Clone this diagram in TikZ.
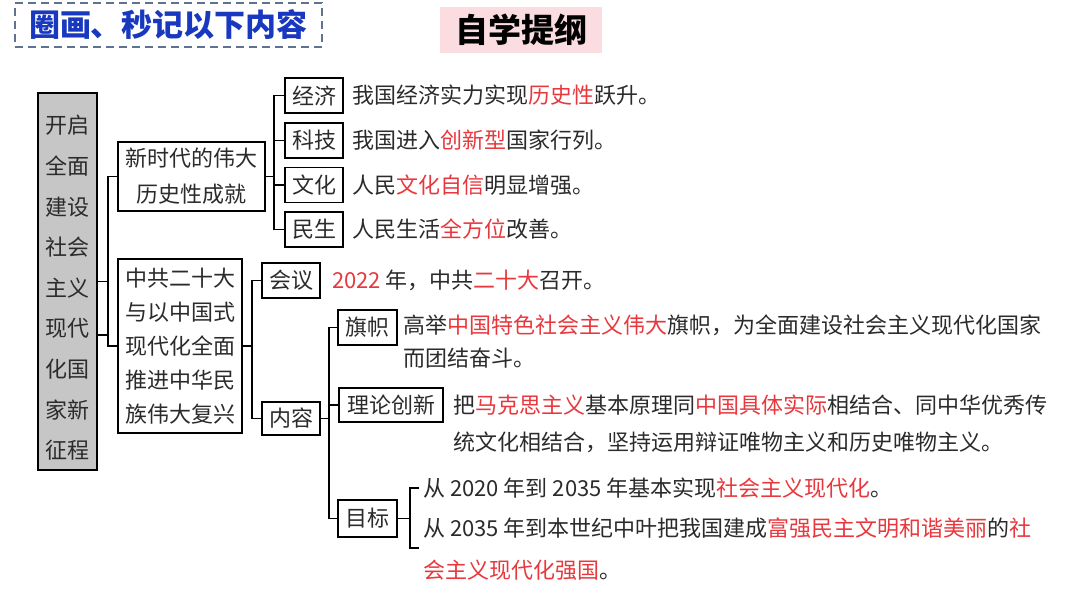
\documentclass[tikz,border=0pt]{standalone}
\usepackage{fontspec}
\setmainfont{Noto Sans CJK SC}
\definecolor{txt}{HTML}{2B2B2B}
\definecolor{hl}{HTML}{E8383D}
\definecolor{hdr}{HTML}{1838C0}
\definecolor{dashc}{HTML}{5E7392}
\definecolor{pinkbg}{HTML}{FBDDE1}
\definecolor{rootbg}{HTML}{C6C6C6}
\newcommand{\hlt}[1]{\textcolor{hl}{#1}}
\begin{document}
\begin{tikzpicture}[x=1pt,y=-1pt,
  box/.style={draw=black, line width=1.7pt, inner sep=0pt, text=txt, font=\fontsize{22}{26}\selectfont, align=center},
  lbl/.style={anchor=west, inner sep=0pt, text=txt, font=\fontsize{22}{26}\selectfont},
  conn/.style={line width=1.5pt, black}]
\useasboundingbox (0,0) rectangle (1080,608);
\fill[white] (0,0) rectangle (1080,608);

% header
\node[draw=dashc, line width=2pt, dash pattern=on 8pt off 5pt, minimum width=307pt, minimum height=44pt, inner sep=0pt,
  text=hdr, font=\fontsize{31}{34}\selectfont\bfseries] (hdr) at (168.5,25) {圈画、秒记以下内容};
\node[fill=pinkbg, minimum width=162pt, minimum height=46pt, inner sep=0pt,
  text=black, font=\fontsize{33}{36}\selectfont\bfseries] (title) at (521,30) {自学提纲};

% root
\node[box, fill=rootbg, minimum width=59pt, minimum height=377pt] (root) at (67.5,281.5) {};
\node[inner sep=0pt, text=txt, align=center, font=\fontsize{22}{40.6}\selectfont] (rootlbl) at (67.5,288)
  {开启\\全面\\建设\\社会\\主义\\现代\\化国\\家新\\征程};

% level 1
\node[box, minimum width=147pt, minimum height=69pt, font=\fontsize{22}{36}\selectfont] (n1) at (191.5,176.5)
  {新时代的伟大\\历史性成就};
\node[box, minimum width=124pt, minimum height=174pt, font=\fontsize{22}{34}\selectfont] (n2) at (180,346)
  {中共二十大\\与以中国式\\现代化全面\\推进中华民\\族伟大复兴};

% level 2 (n1)
\node[box, minimum width=58pt, minimum height=35pt] (jingji) at (314,95.5) {经济};
\node[box, minimum width=58pt, minimum height=35pt] (keji) at (314,140.5) {科技};
\node[box, minimum width=58pt, minimum height=35pt] (wenhua) at (314,185) {文化};
\node[box, minimum width=58pt, minimum height=35pt] (minsheng) at (314,229.5) {民生};

\node[lbl] (tj) at (352,95.5) {我国经济实力实现\hlt{历史性}跃升。};
\node[lbl] (tk) at (352,140.5) {我国进入\hlt{创新型}国家行列。};
\node[lbl] (tw) at (352,185) {人民\hlt{文化自信}明显增强。};
\node[lbl] (tm) at (352,229.5) {人民生活\hlt{全方位}改善。};

% level 2 (n2)
\node[box, minimum width=58pt, minimum height=35pt] (huiyi) at (291,280.5) {会议};
\node[box, minimum width=58pt, minimum height=33pt] (neirong) at (291,418.5) {内容};
\node[lbl] (th) at (332,280.5) {\hlt{2022} 年，中共\hlt{二十大}召开。};

% level 3
\node[box, minimum width=59pt, minimum height=35pt] (qizhi) at (367.5,327.5) {旗帜};
\node[box, minimum width=104pt, minimum height=34pt] (lilun) at (391,405) {理论创新};
\node[box, minimum width=59pt, minimum height=37pt] (mubiao) at (367.5,518.5) {目标};

\node[lbl] (tq1) at (403,325) {高举\hlt{中国特色社会主义伟大}旗帜，为全面建设社会主义现代化国家};
\node[lbl] (tq2) at (403,358) {而团结奋斗。};
\node[lbl] (tl1) at (453,405) {把\hlt{马克思主义}基本原理同\hlt{中国具体实际}相结合、同中华优秀传};
\node[lbl] (tl2) at (453,442) {统文化相结合，坚持运用辩证唯物主义和历史唯物主义。};
\node[lbl] (tg1) at (423,488) {从 2020 年到 2035 年基本实现\hlt{社会主义现代化}。};
\node[lbl] (tg2) at (423,528) {从 2035 年到本世纪中叶把我国建成\hlt{富强民主文明和谐美丽}的\hlt{社}};
\node[lbl] (tg3) at (423,570) {\hlt{会主义现代化强国}。};

% connectors
\coordinate (b0) at (108,0);
\coordinate (b1) at (274,0);
\coordinate (b2) at (252,0);
\coordinate (b3) at (329,0);
\coordinate (b4) at (410,0);
\coordinate (g1) at (419,488);
\coordinate (g2) at (419,548);

\draw[conn] (root.east) -- (root.east -| b0);
\draw[conn] ([yshift=-53.5pt]root.east) -- ([yshift=-53.5pt]root.east -| b0);
\draw[conn] (n1.west) -- (n1.west -| b0) -- (n2.west -| b0) -- (n2.west);

\draw[conn] (n1.east) -- (n1.east -| b1);
\draw[conn] (jingji.west) -- (jingji.west -| b1) -- (minsheng.west -| b1) -- (minsheng.west);
\draw[conn] (keji.west -| b1) -- (keji.west);
\draw[conn] (wenhua.west -| b1) -- (wenhua.west);

\draw[conn] (n2.east) -- (n2.east -| b2);
\draw[conn] (huiyi.west) -- (huiyi.west -| b2) -- (neirong.west -| b2) -- (neirong.west);

\draw[conn] (neirong.east) -- (neirong.east -| b3);
\draw[conn] (qizhi.west) -- (qizhi.west -| b3) -- (mubiao.west -| b3) -- (mubiao.west);
\draw[conn] (lilun.west -| b3) -- (lilun.west);

\draw[conn] (mubiao.east) -- (mubiao.east -| b4);
\draw[conn] (g1) -- (g1 -| b4) -- (g2 -| b4) -- (g2);
\end{tikzpicture}
\end{document}
